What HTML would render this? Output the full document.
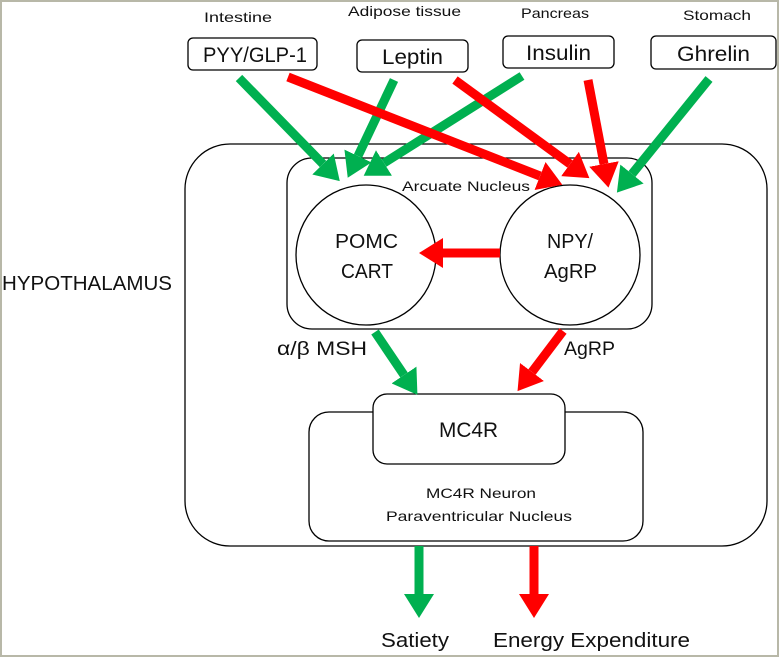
<!DOCTYPE html>
<html><head><meta charset="utf-8"><style>
html,body{margin:0;padding:0;background:#fff}
svg{display:block}
text{font-family:"Liberation Sans","DejaVu Sans",sans-serif;fill:#111}
</style></head><body>
<svg width="780" height="657" viewBox="0 0 780 657" xmlns="http://www.w3.org/2000/svg">
<defs>
<marker id="g" markerUnits="userSpaceOnUse" markerWidth="30" markerHeight="40" viewBox="0 -20 30 40" refX="0" refY="0" orient="auto"><path d="M0,-15 L24,0 L0,15 z" fill="#00b050"/></marker>
<marker id="r" markerUnits="userSpaceOnUse" markerWidth="30" markerHeight="40" viewBox="0 -20 30 40" refX="0" refY="0" orient="auto"><path d="M0,-15 L24,0 L0,15 z" fill="#ff0000"/></marker>
</defs>
<rect x="1" y="1" width="777" height="655" fill="#fff" stroke="#b8b8a8" stroke-width="2"/>
<rect x="185" y="144" width="582" height="402" rx="45" fill="none" stroke="#000" stroke-width="1.3"/>
<rect x="287" y="158" width="365" height="171" rx="25" fill="none" stroke="#000" stroke-width="1.3"/>
<circle cx="366" cy="255" r="70" fill="#fff" stroke="#000" stroke-width="1.3"/>
<circle cx="570" cy="255" r="70" fill="#fff" stroke="#000" stroke-width="1.3"/>
<rect x="309" y="412" width="334" height="129" rx="20" fill="#fff" stroke="#000" stroke-width="1.3"/>
<rect x="373" y="394" width="192" height="70" rx="14" fill="#fff" stroke="#000" stroke-width="1.3"/>
<rect x="188" y="38" width="129" height="32" rx="5" fill="#fff" stroke="#000" stroke-width="1.3"/>
<rect x="357" y="40" width="111" height="32" rx="5" fill="#fff" stroke="#000" stroke-width="1.3"/>
<rect x="503" y="36" width="111" height="32" rx="5" fill="#fff" stroke="#000" stroke-width="1.3"/>
<rect x="651" y="36" width="125" height="33" rx="5" fill="#fff" stroke="#000" stroke-width="1.3"/>
<g font-size="21">
<text x="203" y="62" textLength="104" lengthAdjust="spacingAndGlyphs">PYY/GLP-1</text>
<text x="382" y="64" textLength="61" lengthAdjust="spacingAndGlyphs">Leptin</text>
<text x="526" y="60" textLength="65" lengthAdjust="spacingAndGlyphs">Insulin</text>
<text x="677" y="61" textLength="73" lengthAdjust="spacingAndGlyphs">Ghrelin</text>
</g>
<g font-size="14">
<text x="204" y="22" textLength="68" lengthAdjust="spacingAndGlyphs">Intestine</text>
<text x="348" y="16" textLength="113" lengthAdjust="spacingAndGlyphs">Adipose tissue</text>
<text x="521" y="18" textLength="68" lengthAdjust="spacingAndGlyphs">Pancreas</text>
<text x="683" y="20" textLength="68" lengthAdjust="spacingAndGlyphs">Stomach</text>
<text x="402" y="191" textLength="128" lengthAdjust="spacingAndGlyphs">Arcuate Nucleus</text>
<text x="426" y="498" textLength="110" lengthAdjust="spacingAndGlyphs">MC4R Neuron</text>
<text x="386" y="521" textLength="186" lengthAdjust="spacingAndGlyphs">Paraventricular Nucleus</text>
</g>
<g font-size="20">
<text x="335" y="248" textLength="63" lengthAdjust="spacingAndGlyphs">POMC</text>
<text x="341" y="278" textLength="52" lengthAdjust="spacingAndGlyphs">CART</text>
<text x="547" y="248" textLength="46" lengthAdjust="spacingAndGlyphs">NPY/</text>
<text x="544" y="278" textLength="53" lengthAdjust="spacingAndGlyphs">AgRP</text>
</g>
<text x="439" y="437" font-size="21" textLength="59" lengthAdjust="spacingAndGlyphs">MC4R</text>
<text x="277" y="355" font-size="19" textLength="90" lengthAdjust="spacingAndGlyphs">α/β MSH</text>
<text x="564" y="355" font-size="19" textLength="51" lengthAdjust="spacingAndGlyphs">AgRP</text>
<text x="2" y="290" font-size="20" textLength="170" lengthAdjust="spacingAndGlyphs">HYPOTHALAMUS</text>
<text x="381" y="647" font-size="20" textLength="68" lengthAdjust="spacingAndGlyphs">Satiety</text>
<text x="493" y="647" font-size="20" textLength="197" lengthAdjust="spacingAndGlyphs">Energy Expenditure</text>
<g stroke-width="9" fill="none">
<line x1="239" y1="78" x2="323" y2="164" stroke="#00b050" marker-end="url(#g)"/>
<line x1="394" y1="80" x2="358" y2="156" stroke="#00b050" marker-end="url(#g)"/>
<line x1="522" y1="76" x2="384" y2="163" stroke="#00b050" marker-end="url(#g)"/>
<line x1="288" y1="77" x2="540" y2="176" stroke="#ff0000" marker-end="url(#r)"/>
<line x1="455" y1="80" x2="570" y2="164" stroke="#ff0000" marker-end="url(#r)"/>
<line x1="588" y1="80" x2="604" y2="164" stroke="#ff0000" marker-end="url(#r)"/>
<line x1="709" y1="79" x2="632" y2="174" stroke="#00b050" marker-end="url(#g)"/>
<line x1="500" y1="253" x2="443" y2="253" stroke="#ff0000" marker-end="url(#r)"/>
<line x1="375" y1="332" x2="404" y2="375" stroke="#00b050" marker-end="url(#g)"/>
<line x1="563" y1="331" x2="532" y2="372" stroke="#ff0000" marker-end="url(#r)"/>
<line x1="419" y1="546" x2="419" y2="594" stroke="#00b050" marker-end="url(#g)"/>
<line x1="534" y1="546" x2="534" y2="594" stroke="#ff0000" marker-end="url(#r)"/>
</g>
</svg>
</body></html>
